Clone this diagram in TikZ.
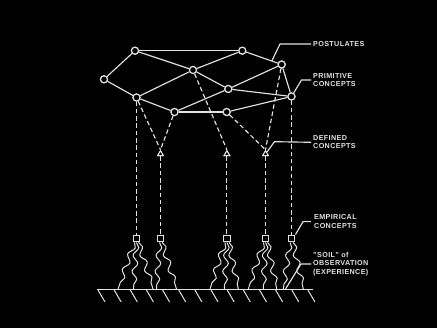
\documentclass[tikz,border=0pt]{standalone}
\usepackage{fontspec}
\setmainfont{Liberation Sans}
\usetikzlibrary{decorations.pathmorphing,shapes.geometric}
\definecolor{fg}{HTML}{E2E2E2}
\begin{document}
\begin{tikzpicture}[x=1pt,y=-1pt,
  ln/.style={draw=fg, line width=1.15pt},
  dsh/.style={draw=fg, line width=1.15pt, dash pattern=on 4.5pt off 2.8pt},
  circ/.style={circle, draw=fg, line width=1.15pt, fill=black, minimum size=7pt, inner sep=0pt},
  tri/.style={regular polygon, regular polygon sides=3, draw=fg, line width=1pt, fill=black, minimum size=6.5pt, inner sep=0pt},
  sq/.style={rectangle, draw=fg, line width=1.1pt, fill=black, minimum size=6.8pt, inner sep=0pt},
  lbl/.style={text=fg, inner sep=0pt, anchor=west, align=left, font=\fontsize{7.2}{8.5}\selectfont\bfseries\addfontfeature{LetterSpace=5}},
  wav/.style={draw=fg, line width=1pt, decorate, decoration={snake, amplitude=2.6pt, segment length=16pt}},
  hat/.style={draw=fg, line width=1pt}
]
\fill[black] (0,0) rectangle (437,328);
\useasboundingbox (0,0) rectangle (437,328);

% ground
\coordinate (g0) at (97,290);
\coordinate (g1) at (313,290);
\draw[hat] (g0) -- (g1);
\foreach \i in {0,...,13}{
  \draw[hat] ({98+16.15*\i},290) -- ++(7,12);
}

% nodes
\node[circ] (A) at (135,50.7) {};
\node[circ] (B) at (242.3,50.7) {};
\node[circ] (C) at (104,79.3) {};
\node[circ] (D) at (193,70) {};
\node[circ] (E) at (281.7,64.5) {};
\node[circ] (F) at (228.3,89) {};
\node[circ] (G) at (136.5,97.5) {};
\node[circ] (H) at (291.5,96.5) {};
\node[circ] (I) at (174.5,112) {};
\node[circ] (J) at (226.7,112) {};

\node[tri] (t1) at (160.5,154) {};
\node[tri] (t2) at (226.9,154) {};
\node[tri] (t3) at (265.5,154) {};

\node[sq] (s1) at (136.5,238.5) {};
\node[sq] (s2) at (160.5,238.5) {};
\node[sq] (s3) at (226.9,238.5) {};
\node[sq] (s4) at (265.5,238.5) {};
\node[sq] (s5) at (291.5,238.5) {};

% solid network
\foreach \a/\b in {A/B, A/C, A/D, B/D, B/E, C/G, G/D, G/I, D/F, F/E, F/H, I/F, I/J, J/H, E/H}
  \draw[ln] (\a) -- (\b);

% dashed
\draw[dsh] (G) -- (s1);
\draw[dsh] (G) -- (t1.corner 1);
\draw[dsh] (I) -- (t1.corner 1);
\draw[dsh] (D) -- (t2.corner 1);
\draw[dsh] (J) -- (t3.corner 1);
\draw[dsh] (E) -- (t3.corner 1);
\draw[dsh] (H) -- (s5);
\draw[dsh] (t1) -- (s2);
\draw[dsh] (t2) -- (s3);
\draw[dsh] (t3) -- (s4);

% redraw nodes on top
\foreach \n in {A,B,C,D,E,F,G,H,I,J}
  \node[circ] at (\n) {};
\foreach \n in {t1,t2,t3}
  \node[tri] at (\n) {};

% wavy lines
\draw[wav] ([xshift=-2pt]s1.south) -- (118,289);
\draw[wav] (s1.south) -- (133.5,289);
\draw[wav] ([xshift=2pt]s1.south) -- (153,289);
\draw[wav] ([xshift=-1pt]s2.south) -- (156.5,289);
\draw[wav] ([xshift=1.5pt]s2.south) -- (176.5,289);
\draw[wav] ([xshift=-2pt]s3.south) -- (210,289);
\draw[wav] (s3.south) -- (224.3,289);
\draw[wav] ([xshift=2pt]s3.south) -- (238.3,289);
\draw[wav] ([xshift=-2pt]s4.south) -- (248.3,289);
\draw[wav] (s4.south) -- (263.3,289);
\draw[wav] ([xshift=2pt]s4.south) -- (276.7,289);
\draw[wav] ([xshift=-1.5pt]s5.south) -- (283.3,289);
\draw[wav] ([xshift=1.5pt]s5.south) -- (303.3,289);

% labels
\node[lbl] (lp) at (313,44) {POSTULATES};
\node[lbl] (lpc) at (313,80) {PRIMITIVE\\CONCEPTS};
\node[lbl] (ldc) at (313,142.3) {DEFINED\\CONCEPTS};
\node[lbl] (lec) at (314,221.5) {EMPIRICAL\\CONCEPTS};
\node[lbl] (lso) at (313,264) {"SOIL" of\\OBSERVATION\\(EXPERIENCE)};

\coordinate (pe) at (271.7,61.2);
\coordinate (pk1) at (280,44);
\coordinate (pk2) at (301.5,80);
\coordinate (pk3) at (274.5,141.7);
\coordinate (pk4) at (303,221.7);
\coordinate (pk5) at (301,264);
\coordinate (pg) at (285.5,289);

\draw[ln] ([xshift=-2pt]lp.west) -- (pk1) -- (pe);
\draw[ln] ([xshift=-2pt]lpc.west) -- (pk2) -- (H);
\draw[ln] ([xshift=-2pt]ldc.west) -- (pk3) -- (t3);
\draw[ln] ([xshift=-3pt]lec.west) -- (pk4) -- (s5.north east);
\draw[ln] ([xshift=-2pt]lso.west) -- (pk5) -- (pg);
\end{tikzpicture}
\end{document}
